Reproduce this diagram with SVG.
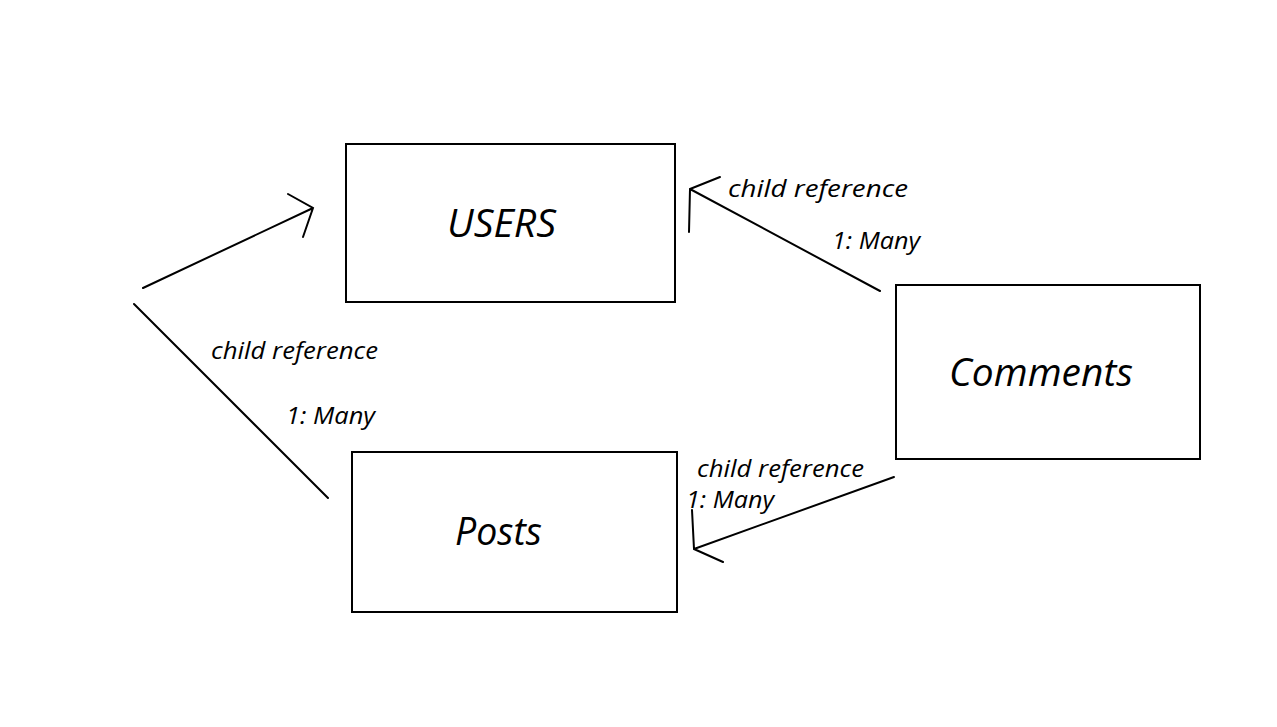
<svg xmlns="http://www.w3.org/2000/svg" width="1277" height="727" viewBox="0 0 1277 727">
<style>
.box{fill:#fff;stroke:#000;stroke-width:2}
.ln{fill:none;stroke:#000;stroke-width:2;stroke-linecap:round}
.t{font-family:"Open Sans","Noto Sans",sans-serif;font-style:italic;fill:#000}
.lbl{font-size:38px}
.sm{font-size:24px}
</style>
<rect width="1277" height="727" fill="#fff"/>
<g id="users"><rect class="box" x="346" y="144" width="329" height="158"/><text class="t lbl" x="447" y="237" textLength="109" lengthAdjust="spacingAndGlyphs">USERS</text></g>
<g id="comments"><rect class="box" x="896" y="285" width="304" height="174"/><text class="t lbl" x="949" y="386" textLength="184" lengthAdjust="spacingAndGlyphs">Comments</text></g>
<g id="posts"><rect class="box" x="352" y="452" width="325" height="160"/><text class="t lbl" x="455" y="545" textLength="87" lengthAdjust="spacingAndGlyphs">Posts</text></g>
<g id="connectors">
<path class="ln" d="M143 288 L313 208 M288 194 L313 208 L303 237"/>
<path class="ln" d="M134 304 L328 498"/>
<path class="ln" d="M880 291 L690 189 M720 177 L690 189 L689 232"/>
<path class="ln" d="M894 477 L694 549 M692 510 L694 549 L723 562"/>
<text class="t sm" x="728" y="197" textLength="180" lengthAdjust="spacingAndGlyphs">child reference</text>
<text class="t sm" x="832" y="249" textLength="88" lengthAdjust="spacingAndGlyphs">1: Many</text>
<text class="t sm" x="211" y="359" textLength="167" lengthAdjust="spacingAndGlyphs">child reference</text>
<text class="t sm" x="286" y="424" textLength="89" lengthAdjust="spacingAndGlyphs">1: Many</text>
<text class="t sm" x="697" y="477" textLength="167" lengthAdjust="spacingAndGlyphs">child reference</text>
<text class="t sm" x="686" y="508" textLength="88" lengthAdjust="spacingAndGlyphs">1: Many</text>
</g>
</svg>
